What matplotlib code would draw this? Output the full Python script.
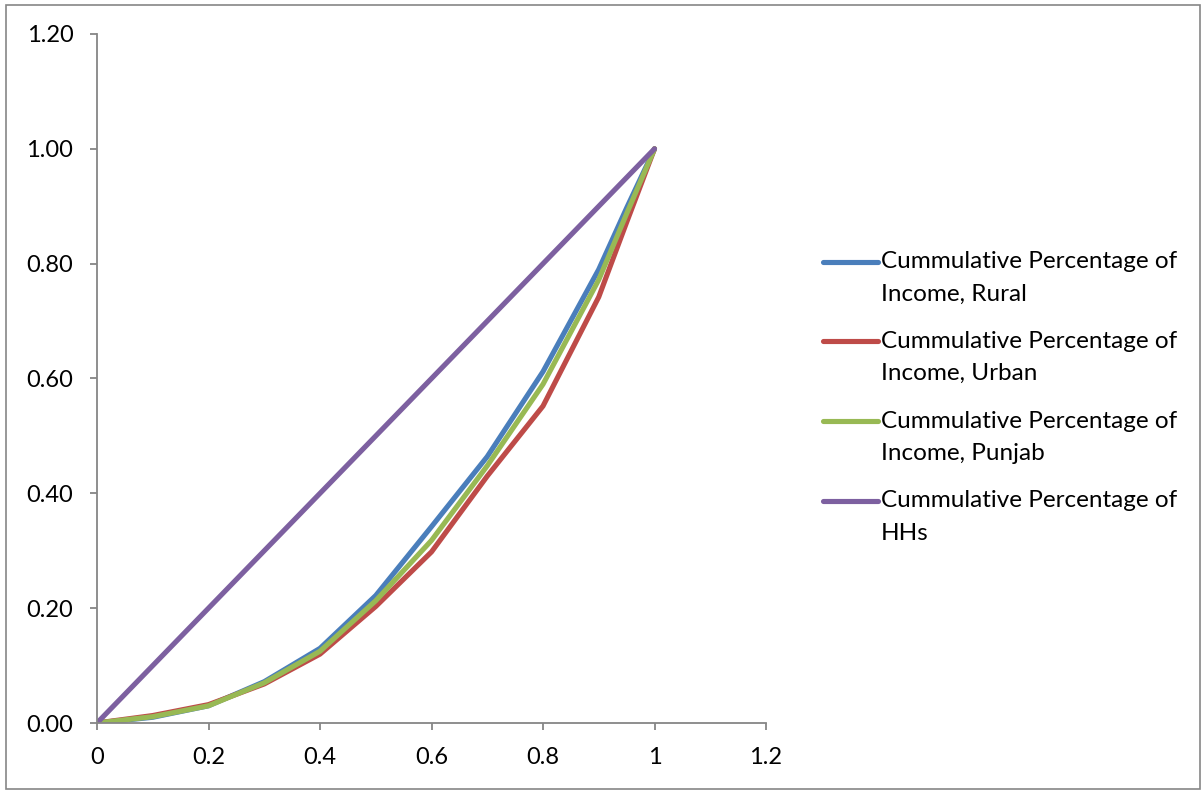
import matplotlib

matplotlib.use("Agg")
import matplotlib.pyplot as plt  # noqa: E402
from matplotlib.lines import Line2D  # noqa: E402
from matplotlib.patches import Rectangle  # noqa: E402
from matplotlib.ticker import FormatStrFormatter, FuncFormatter  # noqa: E402

# cumulative share of households (deciles, plus 0.95)
hh_share = [0, 0.1, 0.2, 0.3, 0.4, 0.5, 0.6, 0.7, 0.8, 0.9, 0.95, 1.0]
income_rural = [0, 0.010, 0.030, 0.072, 0.130, 0.222, 0.342, 0.464, 0.612, 0.790, 0.897, 1.0]
income_urban = [0, 0.013, 0.032, 0.068, 0.120, 0.203, 0.298, 0.430, 0.552, 0.742, 0.872, 1.0]
income_punjab = [0, 0.011, 0.030, 0.070, 0.125, 0.213, 0.318, 0.448, 0.590, 0.772, 0.887, 1.0]
equality = hh_share

labels = [
    ("Cummulative Percentage of", "Income, Rural"),
    ("Cummulative Percentage of", "Income, Urban"),
    ("Cummulative Percentage of", "Income, Punjab"),
    ("Cummulative Percentage of", "HHs"),
]
colors = ["#4A7EBB", "#BE4B48", "#98B954", "#7D60A0"]

plt.rcParams["font.family"] = ["Lato", "DejaVu Sans"]

W, H = 1203, 791
fig = plt.figure(figsize=(W / 100, H / 100), dpi=100)
ax = fig.add_axes([97 / W, 68 / H, 669 / W, 689 / H])

series = [income_rural, income_urban, income_punjab, equality]
for ys, col in zip(series, colors):
    ax.plot(hh_share, ys, color=col, lw=3.7,
            solid_capstyle="round", solid_joinstyle="round")

ax.set_xlim(0, 1.2)
ax.set_ylim(0, 1.2)
ax.set_xticks([0, 0.2, 0.4, 0.6, 0.8, 1.0, 1.2])
ax.set_yticks([0, 0.2, 0.4, 0.6, 0.8, 1.0, 1.2])
ax.xaxis.set_major_formatter(FuncFormatter(lambda v, _: f"{v:g}"))
ax.yaxis.set_major_formatter(FormatStrFormatter("%.2f"))

for side in ("top", "right"):
    ax.spines[side].set_visible(False)
for side in ("left", "bottom"):
    ax.spines[side].set_color("#868686")
    ax.spines[side].set_linewidth(1.3)
ax.tick_params(direction="out", length=5, width=1.3, color="#868686",
               labelsize=17, labelcolor="black", pad=12)

# legend drawn by hand: handle sits level with the first text line
first_rows = [262, 341, 421, 501]
for (l1, l2), col, row in zip(labels, colors, first_rows):
    yf = 1 - row / H
    fig.add_artist(Line2D([823 / W, 878 / W], [yf, yf], color=col, lw=3.7,
                          solid_capstyle="round", transform=fig.transFigure))
    fig.text(881 / W, yf, l1, fontsize=17.5, va="center", ha="left")
    fig.text(881 / W, 1 - (row + 32) / H, l2, fontsize=17.5, va="center", ha="left")

fig.patches.append(Rectangle((6 / W, 2 / H), 1194 / W, 784 / H,
                             transform=fig.transFigure, fill=False,
                             edgecolor="#868686", lw=1.2))

fig.savefig("out.png", dpi=100)
